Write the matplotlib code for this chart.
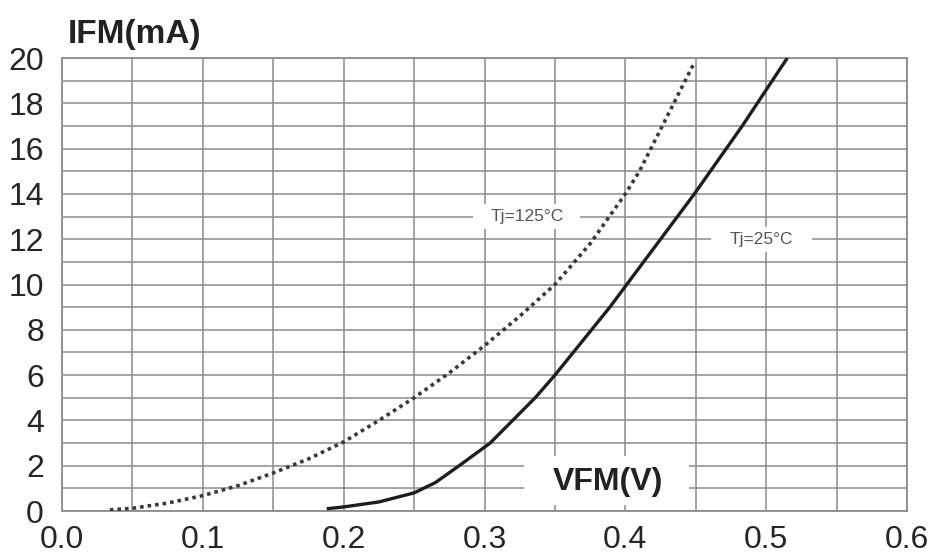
import matplotlib
matplotlib.use("Agg")
import matplotlib.pyplot as plt
from matplotlib.patches import Rectangle
from matplotlib.ticker import MultipleLocator, FormatStrFormatter

plt.rcParams['font.family'] = ['Liberation Sans', 'DejaVu Sans']

# Tj = 125 C (dotted)
v_125 = [0.034, 0.05, 0.075, 0.10, 0.125, 0.15, 0.175, 0.20, 0.225, 0.25, 0.275,
         0.30, 0.325, 0.35, 0.375, 0.40, 0.41, 0.449]
i_125 = [0.05, 0.12, 0.35, 0.68, 1.12, 1.68, 2.30, 3.05, 4.00, 5.00, 6.10,
         7.30, 8.60, 10.0, 11.8, 14.0, 15.0, 19.8]

# Tj = 25 C (solid)
v_25 = [0.188, 0.20, 0.225, 0.25, 0.265, 0.282, 0.304, 0.320, 0.336, 0.350, 0.363,
        0.376, 0.389, 0.401, 0.413, 0.425, 0.449, 0.483, 0.515]
i_25 = [0.10, 0.18, 0.40, 0.80, 1.25, 2.00, 3.00, 4.00, 5.00, 6.00, 7.00,
        8.00, 9.00, 10.0, 11.0, 12.0, 14.0, 17.0, 20.0]

x_ticks = [0.0, 0.1, 0.2, 0.3, 0.4, 0.5, 0.6]
y_ticks = [0, 2, 4, 6, 8, 10, 12, 14, 16, 18, 20]

fig = plt.figure(figsize=(9.32, 5.54), dpi=100)
ax = fig.add_axes([0.0665, 0.0776, 0.9067, 0.8177])

grid_c = '#8c8c8c'
ax.set_xlim(0, 0.6)
ax.set_ylim(0, 20)
ax.set_xticks(x_ticks)
ax.set_yticks(y_ticks)
ax.xaxis.set_major_formatter(FormatStrFormatter('%.1f'))
ax.xaxis.set_minor_locator(MultipleLocator(0.05))
ax.yaxis.set_minor_locator(MultipleLocator(1))
ax.set_axisbelow(True)
ax.grid(which='both', color=grid_c, linewidth=1.1)
ax.tick_params(which='both', length=0)
ax.tick_params(axis='y', pad=13, labelsize=23, labelcolor='#262626')
ax.tick_params(axis='x', pad=10, labelsize=23, labelcolor='#262626')
for s in ax.spines.values():
    s.set_color(grid_c)
    s.set_linewidth(1.3)

ax.plot(v_125, i_125, color='#3a3a3a', linewidth=2.6, linestyle=(0, (1, 1.1)),
        dash_capstyle='butt', zorder=3)
ax.plot(v_25, i_25, color='#1e1e1e', linewidth=2.4, zorder=3,
        solid_capstyle='butt', solid_joinstyle='round')

# curve labels with white boxes masking the grid
labels = [('Tj=125\u00b0C', 0.330, 13.0, 0.038, 0.55),
          ('Tj=25\u00b0C', 0.4965, 12.0, 0.036, 0.55)]
for txt, lx, ly, hw, hh in labels:
    ax.add_patch(Rectangle((lx - hw, ly - hh), 2 * hw, 2 * hh, facecolor='white',
                           edgecolor='none', zorder=1))
    ax.text(lx, ly, txt, fontsize=12.5, color='#555555', ha='center', va='center',
            zorder=4)

# axis titles
vx, vy = 0.388, 1.30
ax.add_patch(Rectangle((vx - 0.060, vy - 1.05), 0.117, 2.2, facecolor='white',
                       edgecolor='none', zorder=1))
ax.text(vx, vy, 'VFM(V)', fontsize=23, fontweight='bold', color='#222222',
        ha='center', va='center', zorder=4)
fig.text(68 / 932, 1 - 43 / 554, 'IFM(mA)', fontsize=24, fontweight='bold',
         color='#222222', ha='left', va='baseline')

fig.savefig('out.png', dpi=100)
